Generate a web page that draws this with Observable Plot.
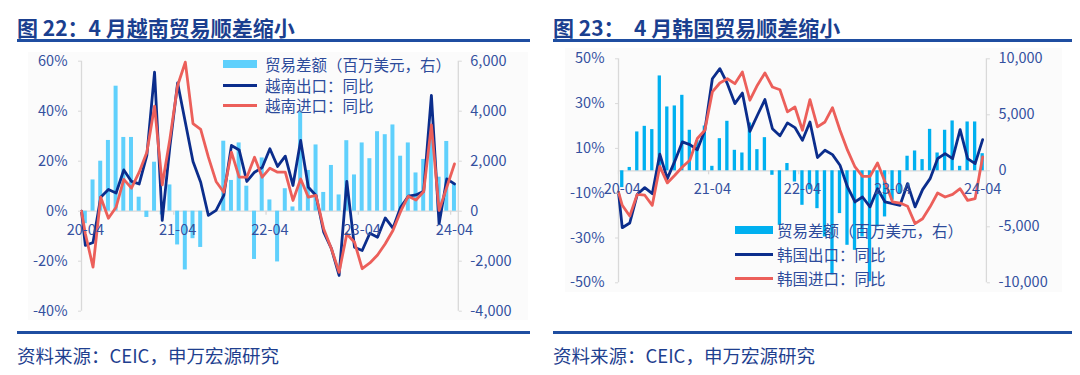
<!DOCTYPE html>
<html><head><meta charset="utf-8">
<script src="https://cdn.jsdelivr.net/npm/d3@7"></script>
<script src="https://cdn.jsdelivr.net/npm/@observablehq/plot@0.6"></script>
<style>
html,body{margin:0;padding:0;background:#fff}
body{width:1080px;height:375px;position:relative;overflow:hidden;font-family:"Noto Sans CJK SC","Noto Sans",sans-serif}
.a{position:absolute}
.title{font-size:21px;font-weight:700;color:#1b3f8f;white-space:pre;line-height:28px}
.hr{height:2.5px;background:#1f4ea1}
.src{font-size:18.5px;color:#1f3f8f;line-height:24px;white-space:pre}
.lg{font-size:15.5px;color:#2d4b9b;line-height:20px;white-space:nowrap}
.bg{background:#fbfbfb}
</style></head><body>
<script>
// ---- shared x ticks ----
const tickLabels = ["20-04","21-04","22-04","23-04","24-04"];
const tickIndex = [0, 12, 24, 36, 48];

// ---- Vietnam (2020-04 .. 2024-04) ----
const vnBalance = [-500,1250,2000,2830,5000,2950,2950,560,-250,1960,-150,1050,-1350,-2350,-1100,-1450,0,0,2800,1230,2730,1000,-1930,2130,450,-2030,900,170,3950,1630,2650,750,1830,650,2820,1450,2730,2100,3180,3060,3450,2200,2730,1530,2070,3300,1360,2790,1090];
const vnExport = [-13.7,-12.5,5.6,8.7,7.3,16.5,11.9,10.9,22.3,55.6,-3.7,26,51.3,35.6,19.9,11.6,-1.7,0.3,6.3,26.3,24.5,11.9,15.6,17.5,25,17.9,22,10.3,28.3,9.6,6.3,-8.4,-15,-25.7,11.9,-14.4,-15.7,-8.8,-10.4,-2.7,-6.8,1.6,6,6.5,8,46.3,-5.1,12.9,10.9];
const vnImport = [-9,-22.4,5.6,-2.8,1.6,12.7,9.2,15.6,23.6,42,10.5,29,50.3,59.6,35,32.7,21.6,11.9,7.6,23.6,13.6,13.6,21.6,13.6,17.2,15.6,15.6,4.3,12.9,5.6,6.3,-7.1,-15,-24.4,-9.1,-12.4,-23,-20.7,-17.5,-13,-7.7,-0.1,6,4.5,7.9,34.5,0.3,9.6,18.9];
const vnLead = 0;
const vnLeftTicks = [-40,-20,0,20,40,60];
const vnRightTicks = [-4000,-2000,0,2000,4000,6000];

// ---- Korea (2020-04 .. 2024-04) ----
const krBalance = [-1500,300,3470,3970,3680,8470,5700,5790,6740,3620,2700,4000,400,2870,4420,1830,1590,4270,1890,2960,-400,-4870,650,-1000,-3080,-1700,-3380,-5910,-9300,-3820,-6650,-7100,-5910,-9900,-5020,-4120,-2630,-2040,1300,1770,1000,3700,1590,3620,4450,400,4360,4360,1530];
const krExport = [-25.4,-23.3,-10.5,-7.5,-10.2,7.4,-3.5,4.3,12.9,11.7,9.4,18.1,41.1,45.6,38.9,30,34.7,17.6,24.8,31.8,18.8,15.6,21.4,19.3,13.6,21.8,5.9,9.2,7.2,2.5,-7.2,-13.9,-11.7,-16.1,-8,-13.9,-14.7,-15.4,-5.7,-16.1,-8.4,-3.5,5.4,7.7,5.4,18.4,5.4,3.2,13.9];
const krImport = [-15.4,-20.2,-10.5,-10.9,-15.4,2,-5.4,-2,1.7,4.7,14.4,18.1,35.2,39.2,41.1,38.9,44.1,31.5,38.2,43.7,37.4,36.2,26.3,28.5,18.1,31.8,19.6,21.8,28.2,18.1,9.2,1.7,-2.5,-2.5,3.5,-5,-13.9,-14.4,-15.8,-23.6,-21.4,-16.1,-9.9,-11.7,-10.5,-8,-13.2,-12.4,6.2];
const krLead = -9.5;
const krLeftTicks = [-50,-30,-10,10,30,50];
const krRightTicks = [-10000,-5000,0,5000,10000];

const NAVY = "#0b2d8c", RED = "#ec5f5a", TXT = "#34509f", GRID = "#d9d9d9";
const fmtNum = v => (v < 0 ? "-" : "") + d3.format(",")(Math.abs(v));

function panel(c) {
  const n = c.bal.length;
  const bars = c.bal.map((v, i) => ({i, v: v / c.factor}));
  const ex = [{i: -0.5, v: c.lead}, ...c.exp.map((v, i) => ({i, v}))];
  const im = [{i: -0.5, v: c.lead}, ...c.imp.map((v, i) => ({i, v}))];
  const [y0, y1] = c.yDomain;
  return Plot.plot({
    width: 540, height: 285,
    marginTop: c.mT, marginBottom: c.mB, marginLeft: c.mL, marginRight: c.mR,
    x: {type: "linear", domain: [-0.5, n - 0.5], axis: null},
    y: {type: "linear", domain: c.yDomain, axis: null, label: null},
    style: {background: "transparent", fontFamily: '"Noto Sans CJK SC","Noto Sans",sans-serif', fontSize: "14.5px", overflow: "visible"},
    marks: [
      Plot.ruleX([-0.5, n - 0.5], {y1: y0, y2: y1, stroke: GRID, strokeWidth: 1.3}),
      Plot.ruleY([0], {stroke: GRID, strokeWidth: 1.3}),
      Plot.ruleX(tickIndex.map(d => d - 0.5), {y1: 0, y2: -c.tickLen, stroke: GRID, strokeWidth: 1.3}),
      Plot.rectY(bars, {x1: d => d.i - 0.5, x2: d => d.i + 0.5, y1: 0, y2: "v", fill: c.barColor, insetLeft: c.inset, insetRight: c.inset}),
      Plot.line(ex, {x: "i", y: "v", stroke: NAVY, strokeWidth: 2.8, strokeLinejoin: "round"}),
      Plot.line(im, {x: "i", y: "v", stroke: RED, strokeWidth: 2.8, strokeLinejoin: "round"}),
      Plot.text(tickIndex, {x: d => d, y: 0, text: (d, k) => tickLabels[k], dy: c.labelDy, fill: TXT, fontSize: 14.5}),
      Plot.axisY({anchor: "left", ticks: c.leftTicks, tickFormat: d => d + "%", tickSize: 3, tickPadding: 11, stroke: GRID, fill: TXT, fontSize: 14.5, label: null}),
      Plot.axisY({anchor: "right", ticks: c.rightTicks.map(v => v / c.factor), tickFormat: d => fmtNum(Math.round(d * c.factor)), tickSize: 3, tickPadding: 9, stroke: GRID, fill: TXT, fontSize: 14.5, label: null})
    ]
  });
}

function el(cls, css, html) {
  const d = document.createElement("div");
  d.className = "a " + (cls || "");
  Object.assign(d.style, css);
  if (html != null) d.textContent = html;
  document.body.appendChild(d);
  return d;
}
const px = v => v + "px";

// backgrounds
el("bg", {left: "28px", top: "52px", width: "500px", height: "268px"});
el("bg", {left: "565px", top: "48px", width: "497px", height: "244px"});

// titles & rules
el("title", {left: "17px", top: "13px"}, "图 22：4 月越南贸易顺差缩小");
el("title", {left: "553px", top: "13px"}, "图 23：  4 月韩国贸易顺差缩小");
el("hr", {left: "17px", top: "39px", width: "513px"});
el("hr", {left: "553px", top: "39px", width: "519px"});
el("hr", {left: "17px", top: "331px", width: "513px"});
el("hr", {left: "553px", top: "331px", width: "519px"});
el("src", {left: "17px", top: "343px"}, "资料来源：CEIC，申万宏源研究");
el("src", {left: "553px", top: "343px"}, "资料来源：CEIC，申万宏源研究");

// charts
const p1 = el("", {left: "0px", top: "45px", width: "540px", height: "285px"});
p1.appendChild(panel({bal: vnBalance, exp: vnExport, imp: vnImport, lead: vnLead, factor: 100,
  yDomain: [-40, 60], leftTicks: vnLeftTicks, rightTicks: vnRightTicks, barColor: "#5fd0fc", inset: 1.85,
  mT: 15.7, mB: 19.3, mL: 81, mR: 82.2, tickLen: 1.6, labelDy: 19}));
const p2 = el("", {left: "540px", top: "45px", width: "540px", height: "285px"});
p2.appendChild(panel({bal: krBalance, exp: krExport, imp: krImport, lead: krLead, factor: 200,
  yDomain: [-50, 50], leftTicks: krLeftTicks, rightTicks: krRightTicks, barColor: "#00b0f0", inset: 2.1,
  mT: 13.3, mB: 47.7, mL: 78, mR: 94.1, tickLen: 1.8, labelDy: 18.5}));

// legends
function legend(x, ys, texts, barColor, swW, tx) {
  el("", {left: px(x), top: px(ys[0] - 4), width: px(swW), height: "8px", background: barColor});
  el("", {left: px(x), top: px(ys[1] - 1.5), width: px(swW), height: "3px", background: NAVY});
  el("", {left: px(x), top: px(ys[2] - 1.5), width: px(swW), height: "3px", background: RED});
  texts.forEach((t, k) => el("lg", {left: px(tx), top: px(ys[k] - 10)}, t));
}
legend(223, [63.5, 85, 105], ["贸易差额（百万美元，右）", "越南出口：同比", "越南进口：同比"], "#5fd0fc", 34, 265);
legend(735, [230, 254, 278], ["贸易差额（百万美元，右）", "韩国出口：同比", "韩国进口：同比"], "#00b0f0", 38, 777);
</script>
</body></html>
